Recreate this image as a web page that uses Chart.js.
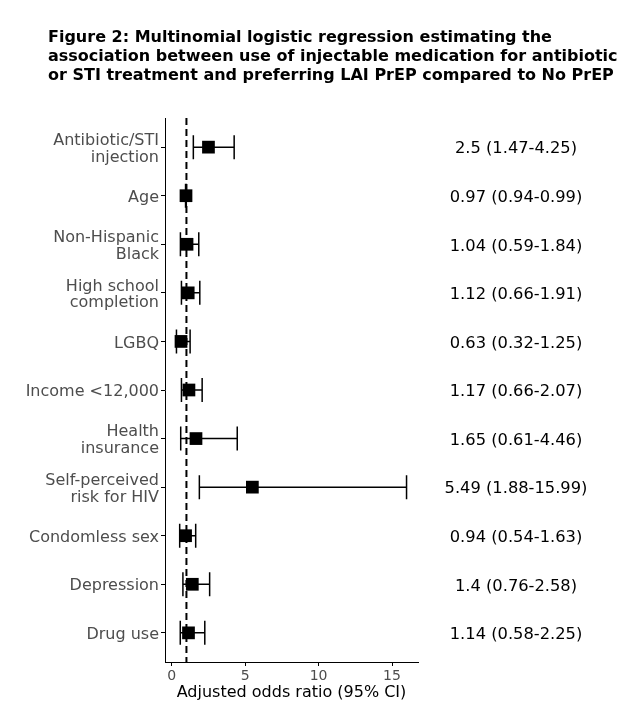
<!DOCTYPE html>
<html>
<head>
<meta charset="utf-8">
<script src="https://cdn.jsdelivr.net/npm/chart.js@4.4.1/dist/chart.umd.min.js"></script>
<style>
  body { margin: 0; background: #fff; }
  #wrap { position: relative; width: 639px; height: 719px; }
  #title {
    position: absolute; left: 48px; top: 27px;
    font: bold 16px 'DejaVu Sans', sans-serif; line-height: 19px; color: #000;
    white-space: nowrap;
  }
</style>
</head>
<body>
<div id="wrap">
  <canvas id="forest"></canvas>
  <div id="title">Figure 2: Multinomial logistic regression estimating the<br>association between use of injectable medication for antibiotic<br>or STI treatment and preferring LAI PrEP compared to No PrEP</div>
</div>
<script>
// Data
const categories = [
  ["Antibiotic/STI", "injection"],
  "Age",
  ["Non-Hispanic", "Black"],
  ["High school", "completion"],
  "LGBQ",
  "Income <12,000",
  ["Health", "insurance"],
  ["Self-perceived", "risk for HIV"],
  "Condomless sex",
  "Depression",
  "Drug use"
];
const oddsRatios = [2.5, 0.97, 1.04, 1.12, 0.63, 1.17, 1.65, 5.49, 0.94, 1.4, 1.14];
const lowerCI = [1.47, 0.94, 0.59, 0.66, 0.32, 0.66, 0.61, 1.88, 0.54, 0.76, 0.58];
const upperCI = [4.25, 0.99, 1.84, 1.91, 1.25, 2.07, 4.46, 15.99, 1.63, 2.58, 2.25];
const ciLabels = [
  "2.5 (1.47-4.25)",
  "0.97 (0.94-0.99)",
  "1.04 (0.59-1.84)",
  "1.12 (0.66-1.91)",
  "0.63 (0.32-1.25)",
  "1.17 (0.66-2.07)",
  "1.65 (0.61-4.46)",
  "5.49 (1.88-15.99)",
  "0.94 (0.54-1.63)",
  "1.4 (0.76-2.58)",
  "1.14 (0.58-2.25)"
];
const xTicks = [0, 5, 10, 15];
const refLine = 1;

const FONT = "'DejaVu Sans'";

// Reference line, error bars and the right-hand text
const forestPlugin = {
  id: "forest",
  beforeDatasetsDraw(chart) {
    const { ctx, chartArea, scales } = chart;
    const x = scales.x, y = scales.y;
    ctx.save();
    // dashed line at OR = 1
    ctx.strokeStyle = "#000";
    ctx.lineWidth = 2;
    ctx.setLineDash([7, 4]);
    ctx.beginPath();
    ctx.moveTo(x.getPixelForValue(refLine), chartArea.top);
    ctx.lineTo(x.getPixelForValue(refLine), chartArea.bottom);
    ctx.stroke();
    ctx.setLineDash([]);
    // error bars
    ctx.lineWidth = 1.5;
    const cap = 12;
    oddsRatios.forEach((v, i) => {
      const py = y.getPixelForValue(i + 1);
      const x0 = x.getPixelForValue(lowerCI[i]);
      const x1 = x.getPixelForValue(upperCI[i]);
      ctx.beginPath();
      ctx.moveTo(x0, py); ctx.lineTo(x1, py);
      ctx.moveTo(x0, py - cap); ctx.lineTo(x0, py + cap);
      ctx.moveTo(x1, py - cap); ctx.lineTo(x1, py + cap);
      ctx.stroke();
    });
    ctx.restore();
  },
  afterDraw(chart) {
    const { ctx, scales } = chart;
    ctx.save();
    ctx.fillStyle = "#000";
    ctx.font = "16.3px " + FONT;
    ctx.textAlign = "center";
    ctx.textBaseline = "middle";
    ciLabels.forEach((t, i) => {
      ctx.fillText(t, 516, scales.y.getPixelForValue(i + 1) + 2);
    });
    ctx.restore();
  }
};

new Chart(document.getElementById("forest"), {
  type: "scatter",
  data: {
    datasets: [{
      data: oddsRatios.map((v, i) => ({ x: v, y: i + 1 })),
      pointStyle: "rect",
      pointRadius: 9,
      pointHoverRadius: 9,
      backgroundColor: "#000",
      borderColor: "#000",
      borderWidth: 0
    }]
  },
  options: {
    responsive: true,
    maintainAspectRatio: false,
    animation: false,
    layout: { padding: { left: 0, right: 221, top: 118, bottom: 0 } },
    plugins: {
      legend: { display: false },
      tooltip: { enabled: false }
    },
    scales: {
      x: {
        type: "linear",
        min: -0.46,
        max: 16.77,
        afterBuildTicks(scale) { scale.ticks = xTicks.map(v => ({ value: v })); },
        afterFit(scale) { scale.height = 57; },
        grid: { drawOnChartArea: false, drawTicks: true, tickLength: 4, color: "#000" },
        border: { display: true, color: "#000", width: 1 },
        ticks: { color: "#4d4d4d", padding: 2, font: { family: FONT, size: 14 } },
        title: {
          display: true,
          text: "Adjusted odds ratio (95% CI)",
          color: "#000",
          font: { family: FONT, size: 16 },
          padding: { top: 0, bottom: 17 }
        }
      },
      y: {
        type: "linear",
        reverse: true,
        min: 0.4,
        max: 11.6,
        afterBuildTicks(scale) { scale.ticks = categories.map((c, i) => ({ value: i + 1 })); },
        afterFit(scale) { scale.width = 165; },
        grid: { drawOnChartArea: false, drawTicks: true, tickLength: 4, color: "#000" },
        border: { display: true, color: "#000", width: 1 },
        ticks: {
          color: "#4d4d4d",
          padding: 2,
          labelOffset: 2,
          font: { family: FONT, size: 16, lineHeight: 1.06 },
          callback: (v) => categories[Math.round(v) - 1]
        }
      }
    }
  },
  plugins: [forestPlugin]
});
</script>
</body>
</html>
